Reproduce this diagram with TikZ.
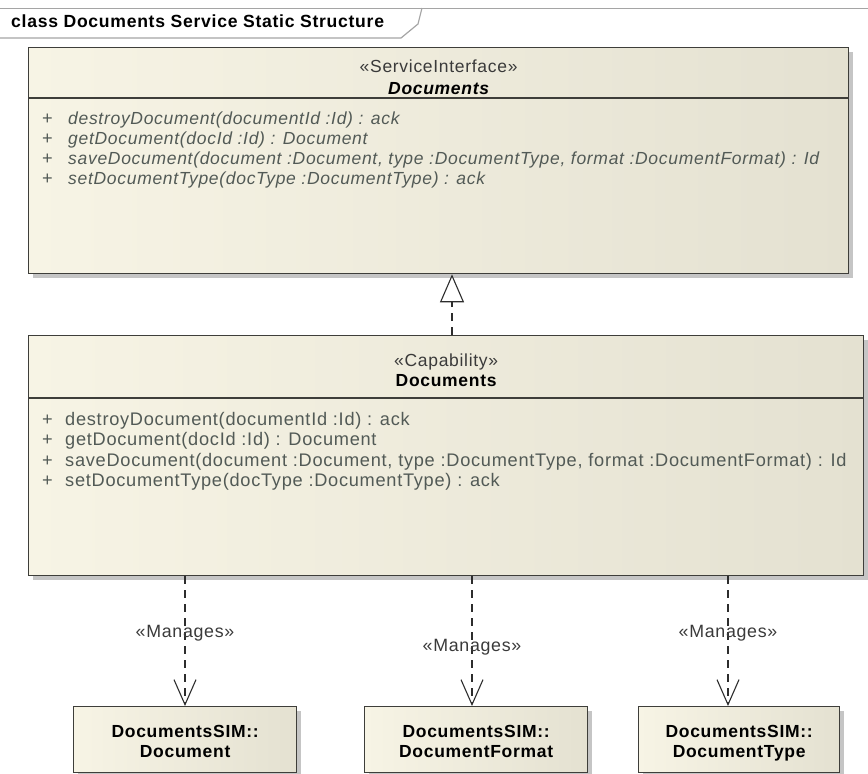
\documentclass[tikz,border=0pt]{standalone}
\usepackage{fontspec}
\setmainfont{Liberation Sans}[LetterSpace=4]
\definecolor{BoxFillLeft}{RGB}{247,244,229}
\definecolor{BoxFillRight}{RGB}{228,225,209}
\definecolor{BoxEdge}{RGB}{62,62,58}
\definecolor{OpGray}{RGB}{82,90,86}
\definecolor{StereoGray}{RGB}{58,58,58}
\definecolor{FrameGray}{RGB}{165,165,165}
\definecolor{LinkGray}{RGB}{45,45,45}
\usetikzlibrary{arrows.meta, positioning, shadows, calc}

\begin{document}
\begin{tikzpicture}[x=1pt, y=-1pt,
    umlbox/.style={draw=BoxEdge, line width=1.3pt, left color=BoxFillLeft, right color=BoxFillRight,
      inner sep=0pt, anchor=north west,
      drop shadow={shadow xshift=4pt, shadow yshift=-4pt, fill=black!45, opacity=0.5}},
    sepline/.style={draw=BoxEdge, line width=1.1pt},
    txt/.style={inner sep=0pt, text height=12.5pt, text depth=4pt},
    stereo/.style={txt, font=\fontsize{17.5}{20}\selectfont, text=StereoGray},
    clsname/.style={txt, font=\bfseries\fontsize{17.5}{20}\selectfont, text=black},
    optext/.style={txt, font=\fontsize{18.2}{20}\selectfont, text=OpGray, anchor=west},
    realize/.style={draw=LinkGray, line width=1.1pt, dash pattern=on 8pt off 6pt,
      -{Triangle[open, length=28pt, width=24pt, fill=white]}},
    depend/.style={draw=LinkGray, line width=1.1pt, dash pattern=on 8pt off 6pt,
      -{Straight Barb[length=25pt, width=22pt]}},
    manages/.style={stereo, font=\fontsize{17.8}{20}\selectfont}
  ]
      \useasboundingbox (0,0) rectangle (868,774);

      \draw[FrameGray, line width=1pt] (0,8) -- (868,8);
      \draw[FrameGray, line width=1.2pt] (0,38) -- (401,38) -- (418,24) -- (422,8);
      \node[txt, anchor=west, font=\bfseries\fontsize{17.6}{20}\selectfont] (frametitle) at (11,23)
        {class Documents Service Static Structure};

      \node[umlbox, minimum width=820pt, minimum height=226pt] (iface) at (28,47) {};
      \node[umlbox, minimum width=835pt, minimum height=240pt] (cap) at (28,335) {};
      \node[umlbox, minimum width=223pt, minimum height=66pt] (doc) at (73,706) {};
      \node[umlbox, minimum width=223pt, minimum height=66pt] (fmt) at (364,706) {};
      \node[umlbox, minimum width=201pt, minimum height=66pt] (dtype) at (638,706) {};

      \draw[sepline] ($(iface.north west)+(0,51)$) -- ($(iface.north east)+(0,51)$);
      \draw[sepline] ($(cap.north west)+(0,63)$) -- ($(cap.north east)+(0,63)$);

      \node[stereo] (ifacestereo) at ($(iface.north)+(0,21)$) {«ServiceInterface»};
      \node[clsname, font=\bfseries\itshape\fontsize{17.5}{20}\selectfont] (ifacename)
        at ($(iface.north)+(0,43)$) {Documents};
      \node[stereo] (capstereo) at ($(cap.north)+(0,27)$) {«Capability»};
      \node[clsname] (capname) at ($(cap.north)+(0,47)$) {Documents};

      \foreach \op [count=\i] in {destroyDocument(documentId :Id) : ack,
        getDocument(docId :Id) : Document,
        {saveDocument(document :Document, type :DocumentType, format :DocumentFormat) : Id},
        setDocumentType(docType :DocumentType) : ack}{
        \node[optext] (ifaceplus\i) at ($(iface.north west)+(14,53+20*\i)$) {+};
        \node[optext, font=\itshape\fontsize{17.5}{20}\selectfont] (ifaceop\i)
          at ($(iface.north west)+(40,53+20*\i)$) {\op};
        \node[optext] (capplus\i) at ($(cap.north west)+(14,65.5+20.5*\i)$) {+};
        \node[optext] (capop\i) at ($(cap.north west)+(37,65.5+20.5*\i)$) {\op};
      }

      \foreach \cls/\clsname in {doc/Document, fmt/DocumentFormat, dtype/DocumentType}{
        \node[clsname] (\cls-pkg) at ($(\cls.north)+(0,27)$) {DocumentsSIM::};
        \node[clsname] (\cls-name) at ($(\cls.north)+(0,47)$) {\clsname};
      }

      \coordinate (genx) at (452,0);
      \draw[realize] (cap.north -| genx) -- (iface.south -| genx);

      \coordinate (docx) at (185,0);
      \coordinate (fmtx) at (472,0);
      \coordinate (dtypex) at (728,0);
      \draw[depend] (cap.south -| docx) -- node[manages, pos=0.44] (docmng) {«Manages»} (doc.north -| docx);
      \draw[depend] (cap.south -| fmtx) -- node[manages, pos=0.55] (fmtmng) {«Manages»} (fmt.north -| fmtx);
      \draw[depend] (cap.south -| dtypex) -- node[manages, pos=0.44] (dtypemng) {«Manages»} (dtype.north -| dtypex);
\end{tikzpicture}
\end{document}
